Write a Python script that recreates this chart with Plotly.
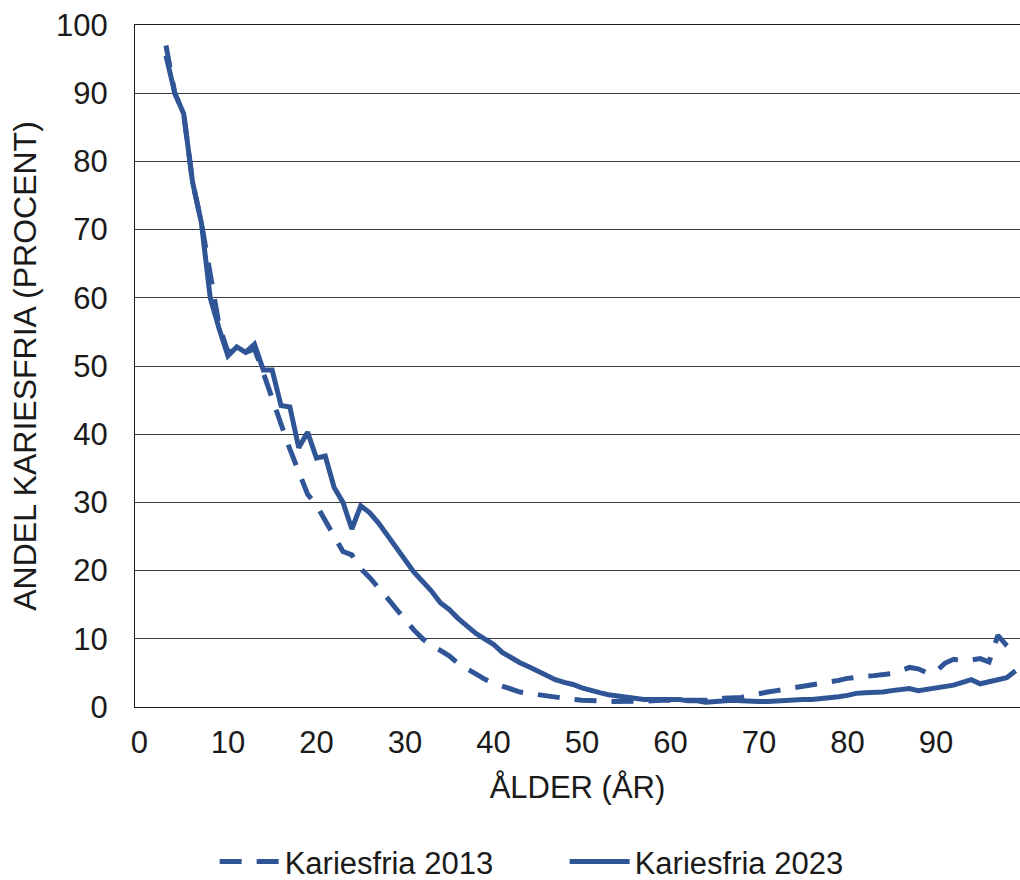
import plotly.graph_objects as go

ages = list(range(3, 100))

kariesfria_2013 = [
    97, 90, 87, 77, 71, 63, 56, 52, 52.5, 52, 52.5, 49, 45.5, 41.5, 37.8, 34.5, 31.2,
    29.6, 27.4, 25, 22.8, 22.3, 20.3, 19, 17.6, 16, 14.4, 12.8, 11.3, 10, 9, 8.3,
    7.5, 6.4, 5.6, 4.7, 4.1, 3.5, 3.1, 2.6, 2.2, 2.0, 1.8, 1.6, 1.4, 1.2, 1.1, 1.0,
    1.0, 0.9, 0.8, 0.8, 0.8, 0.9, 0.9, 0.9, 1.0, 1.0, 1.0, 0.9, 0.9, 0.9, 1.0, 1.3,
    1.4, 1.4, 1.7, 2.0, 2.2, 2.4, 2.6, 2.8, 3.0, 3.2, 3.5, 3.7, 3.9, 4.2, 4.4, 4.5,
    4.6, 4.8, 4.9, 5.3, 5.8, 5.6, 5.0, 5.2, 6.4, 7.0, 6.8, 6.9, 7.1, 6.6, 10.5, 9.0, 7.8,
]

kariesfria_2023 = [
    95.5, 90, 87, 77, 71, 60, 55.5, 51.5, 52.8, 52, 53.2, 49.4, 49.4, 44.2, 44, 38,
    40.3, 36.5, 36.8, 32.2, 30, 26.1, 29.5, 28.5, 27, 25.2, 23.3, 21.8, 19.8, 18.4,
    17, 15.3, 14.3, 13, 11.8, 10.8, 10, 9.2, 8, 7.2, 6.5, 5.9, 5.3, 4.5, 4, 3.6, 3.3,
    2.8, 2.4, 2.1, 1.8, 1.6, 1.4, 1.2, 1.1, 1.1, 1.1, 1.0, 1.1, 0.9, 0.9, 0.7, 0.8,
    1.0, 1.0, 0.9, 0.8, 0.8, 0.8, 0.9, 1.0, 1.1, 1.1, 1.1, 1.2, 1.3, 1.5, 1.7, 2.0,
    2.1, 2.1, 2.2, 2.4, 2.6, 2.7, 2.4, 2.6, 2.8, 3.0, 3.2, 3.6, 4.0, 3.4, 3.7, 4.0,
    4.3, 5.3,
]

x_ticks = list(range(0, 100, 10))
y_ticks = list(range(0, 101, 10))

color = "#2F5597"
font_family = "Liberation Sans, Arial, sans-serif"
fsize = 31

fig = go.Figure()
fig.add_trace(go.Scatter(
    x=ages, y=kariesfria_2013, mode="lines", name="Kariesfria 2013",
    line=dict(color=color, width=5, dash="22px,15px"),
))
fig.add_trace(go.Scatter(
    x=ages, y=kariesfria_2023, mode="lines", name="Kariesfria 2023",
    line=dict(color=color, width=5),
))

fig.update_layout(
    width=1020, height=880,
    margin=dict(l=135, r=0, t=25, b=173, autoexpand=False),
    paper_bgcolor="white", plot_bgcolor="white",
    font=dict(family=font_family, size=fsize, color="#1a1a1a"),
    showlegend=True,
    legend=dict(orientation="h", x=0.09, xanchor="left", y=-0.227, yanchor="middle",
                font=dict(size=fsize), traceorder="normal",
                entrywidth=275, entrywidthmode="pixels", itemwidth=60),
)
fig.update_xaxes(
    range=[-0.5, 99.5], tickmode="array", tickvals=x_ticks,
    ticktext=[str(v) for v in x_ticks], automargin=False,
    showgrid=False, zeroline=False, showline=True, mirror=True,
    linecolor="#1a1a1a", linewidth=1.3, ticks="", ticklen=0,
    ticklabelstandoff=8,
    title=dict(text="ÅLDER (ÅR)", standoff=16, font=dict(size=fsize)),
)
fig.update_yaxes(
    range=[0, 100], tickmode="array", tickvals=y_ticks,
    ticktext=[str(v) for v in y_ticks], automargin=False,
    showgrid=True, gridcolor="#3a3a3a", gridwidth=1.3,
    zeroline=False, showline=True, mirror=True,
    linecolor="#1a1a1a", linewidth=1.3, ticks="", ticklen=0,
    ticklabelstandoff=20,
    title=dict(text="ANDEL KARIESFRIA (PROCENT)", standoff=9, font=dict(size=32)),
)

fig.write_html("out.html", config={"displayModeBar": False},
               post_script="document.body.style.margin='0px';")
